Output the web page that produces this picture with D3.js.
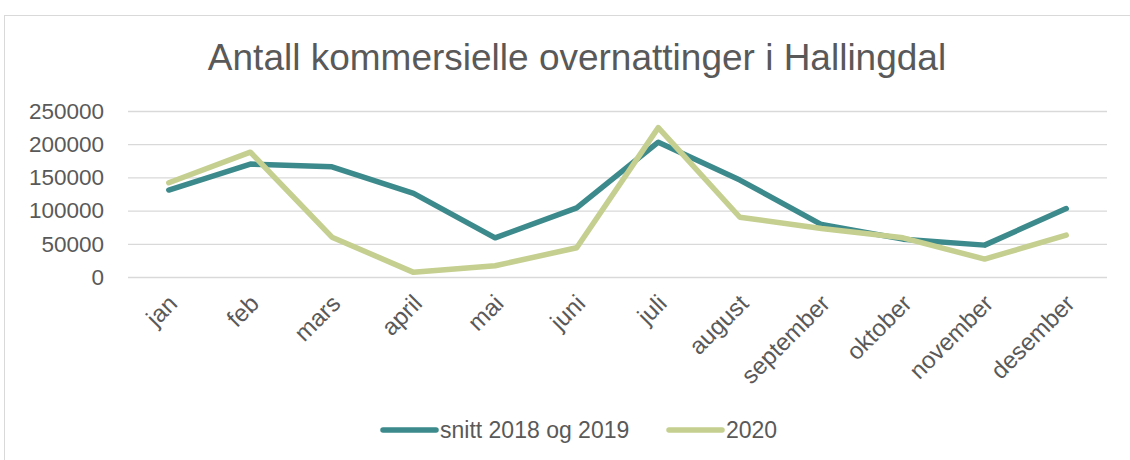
<!DOCTYPE html>
<html><head><meta charset="utf-8">
<script src="https://cdn.jsdelivr.net/npm/d3@7"></script>
<style>body{margin:0;background:#fff}svg{display:block;font-family:"Liberation Sans",Arial,sans-serif}</style>
</head><body><svg id="c" width="1130" height="460"></svg>
<script>
const months = ["jan","feb","mars","april","mai","juni","juli","august","september","oktober","november","desember"];
const snitt = [131000,170000,166000,126000,59000,104000,203000,146000,79000,57000,48000,103000];
const y2020 = [142000,188000,60000,7000,17000,44000,225000,90000,73000,59000,27000,63000];
const yTicks = [0,50000,100000,150000,200000,250000];
const seriesNames = ["snitt 2018 og 2019","2020"];
const colors = ["#3d8a8c","#c5cf8f"];

const svg = d3.select("#c");
svg.append("rect").attr("x",4.5).attr("y",15.5).attr("width",1140).attr("height",460).attr("fill","#fff").attr("stroke","#d9d9d9");

const x = d3.scaleBand().domain(months).range([128,1107]);
const y = d3.scaleLinear().domain([0,250000]).range([277,111]);

svg.append("text").attr("x",577).attr("y",70).attr("text-anchor","middle").attr("font-size",37).attr("fill","#595959").text("Antall kommersielle overnattinger i Hallingdal");

const yAxis = svg.append("g").attr("transform","translate(128,0)").call(d3.axisLeft(y).tickValues(yTicks).tickSize(-979).tickFormat(d3.format("d")).tickPadding(24));
yAxis.select(".domain").remove();
yAxis.selectAll("line").attr("stroke","#d9d9d9").attr("stroke-width",1.3);
yAxis.selectAll("text").attr("font-size",22.5).attr("fill","#595959").attr("font-family","Liberation Sans, Arial, sans-serif");

const xAxis = svg.append("g").attr("transform","translate(0,277)").call(d3.axisBottom(x).tickSize(0));
xAxis.select(".domain").remove();
xAxis.selectAll("text").attr("font-size",24).attr("fill","#595959").attr("font-family","Liberation Sans, Arial, sans-serif")
  .attr("text-anchor","end").attr("dy",0).attr("y",0)
  .attr("transform","translate(10,28) rotate(-45)");

const line = d3.line().x((d,i)=>x(months[i])+x.bandwidth()/2).y(d=>y(d));
[snitt,y2020].forEach((s,k)=>{
  svg.append("path").datum(s).attr("d",line).attr("fill","none").attr("stroke",colors[k]).attr("stroke-width",5.5).attr("stroke-linejoin","round").attr("stroke-linecap","round");
});

const leg = [{x:383,tx:440},{x:669,tx:726}];
seriesNames.forEach((n,k)=>{
  svg.append("line").attr("x1",leg[k].x).attr("x2",leg[k].x+53).attr("y1",430).attr("y2",430).attr("stroke",colors[k]).attr("stroke-width",5.5).attr("stroke-linecap","round");
  svg.append("text").attr("x",leg[k].tx).attr("y",438).attr("font-size",23).attr("fill","#595959").text(n);
});
</script></body></html>
